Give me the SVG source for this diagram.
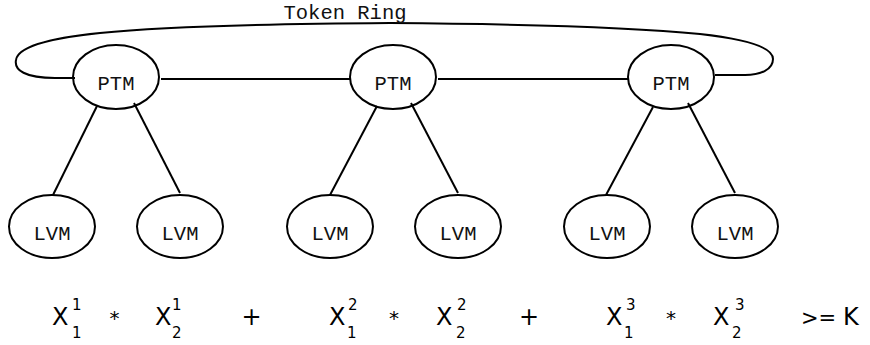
<svg xmlns="http://www.w3.org/2000/svg" width="870" height="345" viewBox="0 0 870 345">
<style>
.node ellipse{fill:none;stroke:#000;stroke-width:2}
.lbl{font-family:"Liberation Mono","DejaVu Sans Mono",monospace;font-size:20.5px;fill:#111;text-anchor:middle}
#connectors line,#connectors path{stroke:#000;stroke-width:2;fill:none}
.eq{font-family:"DejaVu Sans","Liberation Sans",sans-serif;fill:#000}
.big{font-size:24px}
.sm{font-size:15px}
.op{font-size:20px;text-anchor:middle}
</style>
<rect width="870" height="345" fill="#fff"/>
<g id="connectors">
<path d="M 75 78 L 55 78 C 25 78, 14 70, 16 60 C 18 45, 60 37, 100 33 C 160 27, 250 24, 390 23 C 530 24, 640 28, 700 34 C 745 39, 773 47, 773 59 C 773 70, 760 75, 745 75 L 715 75"/>
<line x1="161" y1="79" x2="350" y2="79"/>
<line x1="438" y1="79" x2="628" y2="79"/>
<line x1="97" y1="106" x2="53" y2="195"/>
<line x1="134" y1="103" x2="180" y2="193"/>
<line x1="377" y1="106" x2="330" y2="195"/>
<line x1="411" y1="103" x2="458" y2="193"/>
<line x1="653" y1="107" x2="606" y2="195"/>
<line x1="688" y1="103" x2="735" y2="193"/>
</g>
<text class="lbl" x="345" y="19">Token Ring</text>
<g id="ptm1" class="node"><ellipse cx="116" cy="77" rx="43" ry="32"/><text class="lbl" x="116" y="90">PTM</text></g>
<g id="ptm2" class="node"><ellipse cx="393" cy="77" rx="43" ry="32"/><text class="lbl" x="393" y="90">PTM</text></g>
<g id="ptm3" class="node"><ellipse cx="671" cy="77" rx="43" ry="32"/><text class="lbl" x="671" y="90">PTM</text></g>
<g id="lvm1" class="node"><ellipse cx="52" cy="226.5" rx="43" ry="31.5"/><text class="lbl" x="52" y="240">LVM</text></g>
<g id="lvm2" class="node"><ellipse cx="180" cy="226.5" rx="43" ry="31.5"/><text class="lbl" x="180" y="240">LVM</text></g>
<g id="lvm3" class="node"><ellipse cx="330" cy="226.5" rx="43" ry="31.5"/><text class="lbl" x="330" y="240">LVM</text></g>
<g id="lvm4" class="node"><ellipse cx="458" cy="226.5" rx="43" ry="31.5"/><text class="lbl" x="458" y="240">LVM</text></g>
<g id="lvm5" class="node"><ellipse cx="607" cy="226.5" rx="43" ry="31.5"/><text class="lbl" x="607" y="240">LVM</text></g>
<g id="lvm6" class="node"><ellipse cx="735" cy="226.5" rx="43" ry="31.5"/><text class="lbl" x="735" y="240">LVM</text></g>
<g id="equation" class="eq">
<text class="big" x="52" y="325">X</text><text class="sm" x="72" y="310">1</text><text class="sm" x="72" y="338">1</text>
<text class="op" x="114.5" y="325">*</text>
<text class="big" x="155" y="325">X</text><text class="sm" x="172" y="310">1</text><text class="sm" x="172" y="338">2</text>
<text class="big" x="251.5" y="325" text-anchor="middle">+</text>
<text class="big" x="329" y="325">X</text><text class="sm" x="348" y="310">2</text><text class="sm" x="347" y="338">1</text>
<text class="op" x="394" y="325">*</text>
<text class="big" x="436" y="325">X</text><text class="sm" x="457" y="310">2</text><text class="sm" x="456" y="338">2</text>
<text class="big" x="529" y="325" text-anchor="middle">+</text>
<text class="big" x="606" y="325">X</text><text class="sm" x="626" y="310">3</text><text class="sm" x="624" y="338">1</text>
<text class="op" x="671" y="325">*</text>
<text class="big" x="713" y="325">X</text><text class="sm" x="735" y="310">3</text><text class="sm" x="732" y="338">2</text>
<text x="801" y="325" font-size="21">&gt;=</text>
<text class="big" x="843" y="325">K</text>
</g>
</svg>
